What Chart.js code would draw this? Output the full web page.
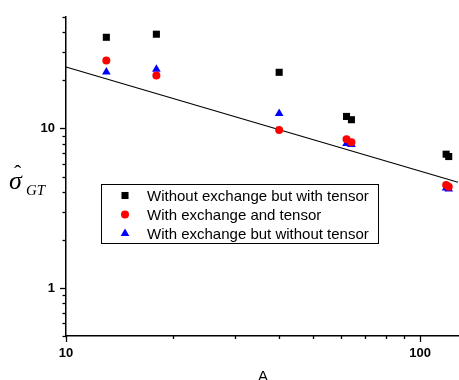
<!DOCTYPE html>
<html>
<head>
<meta charset="utf-8">
<script src="https://cdn.jsdelivr.net/npm/chart.js@4"></script>
<style>
  html, body { margin: 0; padding: 0; background: #fff; }
  canvas { display: block; }
</style>
</head>
<body>
<canvas id="gtChart" width="459" height="380"></canvas>
<script>
// mass numbers A
const massNumbers = [13, 18, 40, 62, 64, 118.5, 120.5];
// sigma_GT for each model
const noExchangeTensor = [37.3, 39.0, 22.5, 11.9, 11.35, 6.9, 6.67];
const exchangeTensor = [26.7, 21.5, 9.8, 8.57, 8.2, 4.42, 4.32];
const exchangeNoTensor = [22.6, 23.5, 12.4, 8.05, 7.93, 4.24, 4.17];
// power-law line, end points
const fitA = [10, 128];
const fitSigma = [24.3, 4.6];

const seriesLabels = [
  'Without exchange but with tensor',
  'With exchange and tensor',
  'With exchange but without tensor'
];

// tick positions on the log axes
const xTicks = [10, 20, 30, 40, 50, 60, 70, 80, 90, 100];
const xLabels = [10, 100];
const yTicks = [0.5, 0.6, 0.7, 0.8, 0.9, 1, 2, 3, 4, 5, 6, 7, 8, 9, 10, 20, 30, 40, 50];
const yLabels = [1, 10];

const toPoints = (xs, ys) => xs.map((x, i) => ({ x: x, y: ys[i] }));

// minor/major tick marks + titles + legend box
const decorations = {
  id: 'decorations',
  afterDraw(chart) {
    const ctx = chart.ctx;
    const xs = chart.scales.x, ys = chart.scales.y;
    const area = chart.chartArea;
    ctx.save();
    ctx.strokeStyle = '#000';
    ctx.lineWidth = 1.3;
    xTicks.forEach(v => {
      const px = Math.round(xs.getPixelForValue(v)) + 0.5;
      const len = xLabels.includes(v) ? 6 : 3;
      ctx.beginPath();
      ctx.moveTo(px, area.bottom);
      ctx.lineTo(px, area.bottom + len);
      ctx.stroke();
    });
    yTicks.forEach(v => {
      const py = Math.round(ys.getPixelForValue(v)) + 0.5;
      const len = yLabels.includes(v) ? 6 : 3.5;
      ctx.beginPath();
      ctx.moveTo(area.left, py);
      ctx.lineTo(area.left - len, py);
      ctx.stroke();
    });

    // axis titles
    ctx.fillStyle = '#000';
    ctx.textBaseline = 'alphabetic';
    ctx.textAlign = 'left';
    ctx.font = 'italic 26px "Liberation Serif", "DejaVu Serif", serif';
    ctx.fillText('σ', 9, 189);
    ctx.font = '22px "Liberation Serif", "DejaVu Serif", serif';
    ctx.fillText('ˆ', 14, 180);
    ctx.font = 'italic 15px "Liberation Serif", "DejaVu Serif", serif';
    ctx.fillText('GT', 26, 195);
    ctx.textAlign = 'center';
    ctx.font = '15px "Liberation Sans", Arial, sans-serif';
    ctx.fillText('A', 263, 381);

    // legend
    const box = { left: 101.5, top: 184.5, right: 378.5, bottom: 243.5 };
    ctx.fillStyle = '#fff';
    ctx.fillRect(box.left, box.top, box.right - box.left, box.bottom - box.top);
    ctx.lineWidth = 1;
    ctx.strokeStyle = '#000';
    ctx.strokeRect(box.left, box.top, box.right - box.left, box.bottom - box.top);
    const rowY = [195.5, 214.5, 233.5];
    ctx.textAlign = 'left';
    ctx.textBaseline = 'middle';
    ctx.font = '15px "Liberation Sans", Arial, sans-serif';
    seriesLabels.forEach((label, i) => {
      const ds = chart.data.datasets[i];
      ctx.fillStyle = ds.backgroundColor;
      ctx.strokeStyle = ds.borderColor;
      Chart.helpers.drawPoint(ctx, {
        pointStyle: ds.pointStyle,
        radius: ds.pointRadius,
        borderWidth: 0,
        rotation: 0
      }, 125, rowY[i]);
      ctx.fillStyle = '#000';
      ctx.fillText(label, 147, rowY[i] + 1);
    });
    ctx.restore();
  }
};

const chart = new Chart(document.getElementById('gtChart'), {
  type: 'scatter',
  data: {
    datasets: [
      {
        label: seriesLabels[0],
        data: toPoints(massNumbers, noExchangeTensor),
        pointStyle: 'rect',
        pointRadius: 5,
        backgroundColor: '#000000',
        borderColor: '#000000',
        borderWidth: 0
      },
      {
        label: seriesLabels[1],
        data: toPoints(massNumbers, exchangeTensor),
        pointStyle: 'circle',
        pointRadius: 4,
        backgroundColor: '#ff0000',
        borderColor: '#ff0000',
        borderWidth: 0
      },
      {
        label: seriesLabels[2],
        data: toPoints(massNumbers, exchangeNoTensor),
        pointStyle: 'triangle',
        pointRadius: 5,
        backgroundColor: '#0000ff',
        borderColor: '#0000ff',
        borderWidth: 0
      },
      {
        type: 'line',
        label: 'fit',
        data: toPoints(fitA, fitSigma),
        borderColor: '#000000',
        borderWidth: 1.2,
        pointRadius: 0,
        fill: false
      }
    ]
  },
  options: {
    responsive: false,
    animation: false,
    devicePixelRatio: 1,
    clip: false,
    layout: { autoPadding: false, padding: { top: 17, right: 1, left: 0, bottom: 0 } },
    plugins: {
      legend: { display: false },
      tooltip: { enabled: false }
    },
    scales: {
      x: {
        type: 'logarithmic',
        min: 10,
        max: 128,
        afterBuildTicks: s => { s.ticks = xTicks.map(v => ({ value: v })); },
        afterFit: s => { s.height = 44; },
        grid: { display: false },
        border: { display: true, color: '#000', width: 1.5 },
        ticks: {
          autoSkip: false,
          maxRotation: 0,
          padding: 2,
          color: '#000',
          font: { family: '"Liberation Sans", Arial, sans-serif', size: 13, weight: 'bold' },
          callback: v => (xLabels.includes(v) ? String(v) : '')
        }
      },
      y: {
        type: 'logarithmic',
        min: 0.5,
        max: 50,
        afterBuildTicks: s => { s.ticks = yTicks.map(v => ({ value: v })); },
        afterFit: s => { s.width = 66; },
        grid: { display: false },
        border: { display: true, color: '#000', width: 1.5 },
        ticks: {
          autoSkip: false,
          padding: 3,
          color: '#000',
          font: { family: '"Liberation Sans", Arial, sans-serif', size: 13, weight: 'bold' },
          callback: v => (yLabels.includes(v) ? String(v) : '')
        }
      }
    }
  },
  plugins: [decorations]
});
</script>
</body>
</html>
